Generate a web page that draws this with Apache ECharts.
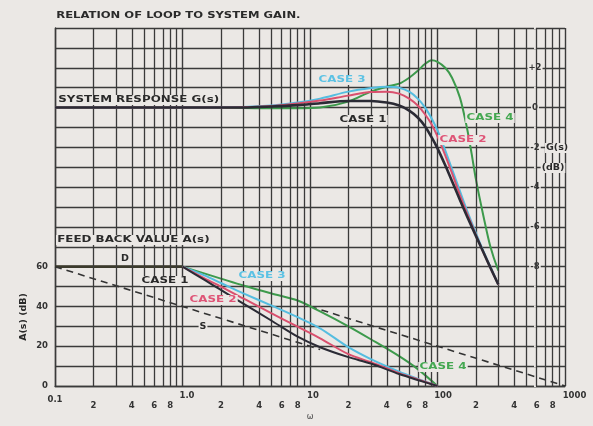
<!DOCTYPE html>
<html>
<head>
<meta charset="utf-8">
<script src="https://cdn.jsdelivr.net/npm/echarts@6/dist/echarts.min.js"></script>
<style>
html, body { margin: 0; padding: 0; background: #ebe8e5; }
#chart { width: 593px; height: 426px; }
</style>
</head>
<body>
<div id="chart"></div>
<script>
// system response G(s) in dB (right scale)
const wTop = [0.1, 1, 3, 5, 8, 12, 20, 30, 40, 50, 60, 70, 80, 90, 100, 115, 130, 150, 170, 200, 230, 260, 300];
const gCase1 = [0, 0, 0, 0.05, 0.12, 0.22, 0.33, 0.33, 0.25, 0.1, -0.15, -0.5, -0.95, -1.5, -2.05, -2.9, -3.7, -4.65, -5.45, -6.45, -7.3, -8.05, -8.9];
const gCase2 = [0, 0, 0.02, 0.08, 0.2, 0.35, 0.6, 0.78, 0.8, 0.7, 0.45, 0.1, -0.35, -0.85, -1.45, -2.4, -3.3, -4.4, -5.3, -6.4, -7.3, -8.05, -8.9];
const gCase3 = [0, 0, 0.03, 0.1, 0.25, 0.45, 0.8, 0.98, 1.05, 1.0, 0.8, 0.45, 0.0, -0.55, -1.15, -2.15, -3.1, -4.2, -5.15, -6.3, -7.25, -8.0, -8.9];
const wCase4Top = [0.1, 1, 3, 5, 8, 12, 20, 30, 40, 50, 60, 70, 80, 90, 100, 115, 130, 150, 170, 185, 200, 230, 260, 300];
const gCase4 = [0, 0, -0.02, -0.04, -0.04, 0.0, 0.3, 0.8, 1.05, 1.2, 1.5, 1.85, 2.2, 2.38, 2.3, 2.0, 1.5, 0.5, -1.0, -2.3, -3.6, -5.5, -7.0, -8.2];

// feed back value A(s) in dB (left scale)
const wBottom = [1, 1.5, 2, 3, 5, 8, 12, 20, 30, 50, 70, 100];
const aCase1 = [60, 53.2, 48.3, 41.4, 32.8, 24.8, 19.5, 14.5, 11.3, 6, 3, 0];
const aCase2 = [60, 54, 50, 44, 36.5, 29.8, 24, 16, 12, 6.5, 3.3, 0];
const aCase3 = [60, 55.5, 51.8, 46.6, 40.4, 34.6, 29, 19.5, 13.5, 7.2, 3.6, 0];
const aCase4 = [60, 56.5, 54, 50.5, 46.5, 43, 37.5, 30, 23.5, 15, 8.5, 0];
const wD = [0.1, 1];
const aD = [60, 60];
const wS1 = [0.1, 12];
const aS1 = [60, 18.4];
const wS2 = [10, 1000];
const aS2 = [40, 0];

// minor log grid lines
const minorGrid = [0.2, 0.3, 0.4, 0.5, 0.6, 0.7, 0.8, 0.9,
  2, 3, 4, 5, 6, 7, 8, 9,
  20, 30, 40, 50, 60, 70, 80, 90,
  200, 300, 400, 500, 600, 700, 800, 900];

const BG = '#ebe8e5';
const GRID = '#3a3a3a';
const FONT = 'DejaVu Sans';

function pairs(xs, ys) {
  return xs.map((x, i) => [x, ys[i]]);
}

function leading(v) {
  const p = Math.pow(10, Math.floor(Math.log10(v) + 1e-9));
  return Math.round(v / p);
}

// printed labels are a wide, bold face: stretch the text horizontally
function label(text, x, y, color, opts) {
  opts = opts || {};
  return {
    type: 'text',
    x: x,
    y: y,
    rotation: opts.rotation || 0,
    scaleX: opts.stretch || 1,
    z: 100,
    style: {
      text: text,
      fill: color,
      font: 'bold ' + (opts.size || 9.5) + 'px "' + FONT + '"',
      textAlign: opts.align || 'center',
      textVerticalAlign: 'middle',
      backgroundColor: opts.bg === false ? null : BG,
      padding: [0, 1]
    }
  };
}

const lineBase = {
  type: 'line',
  showSymbol: false,
  symbol: 'none',
  smooth: 0.3,
  animation: false,
  silent: true
};

const option = {
  backgroundColor: BG,
  animation: false,
  grid: { left: 55, right: 28, top: 28, bottom: 38 },
  xAxis: {
    type: 'log',
    logBase: 10,
    min: 0.1,
    max: 1000,
    name: 'ω',
    nameLocation: 'middle',
    nameGap: 27,
    nameTextStyle: { color: '#444', fontSize: 8, fontFamily: FONT },
    axisLine: { show: true, lineStyle: { color: GRID, width: 1.4 } },
    axisTick: { show: false },
    splitLine: { show: true, lineStyle: { color: GRID, width: 1.4 } },
    axisLabel: {
      showMinLabel: true,
      showMaxLabel: true,
      margin: 5,
      color: '#333',
      fontSize: 8.5,
      fontWeight: 'bold',
      fontFamily: FONT,
      formatter: function (v) {
        if (v < 0.5) return '{a|0.1}';
        if (v < 5) return '{b|1.0}';
        if (v < 50) return '{c|10}';
        if (v < 500) return '{d|100}';
        return '{e|1000}';
      },
      rich: {
        a: { padding: [4, 0, 0, 0] },
        b: { padding: [0, 0, 0, 9] },
        c: { padding: [0, 0, 0, 6] },
        d: { padding: [0, 0, 0, 11] },
        e: { padding: [0, 0, 0, 19] }
      }
    }
  },
  yAxis: [
    {
      type: 'value',
      min: 0,
      max: 180,
      interval: 10,
      position: 'left',
      axisLine: { show: true, lineStyle: { color: GRID, width: 1.4 } },
      axisTick: { show: false },
      splitLine: { show: true, lineStyle: { color: GRID, width: 1.4 } },
      axisLabel: {
        margin: 7,
        color: '#333',
        fontSize: 8.5,
        fontWeight: 'bold',
        fontFamily: FONT,
        formatter: function (v) {
          return (v <= 60 && v % 20 === 0) ? String(v) : '';
        }
      }
    },
    {
      type: 'value',
      min: -14,
      max: 4,
      interval: 1,
      position: 'right',
      axisLine: { show: false },
      axisTick: { show: false },
      splitLine: { show: false },
      axisLabel: {
        inside: true,
        margin: 30,
        align: 'center',
        color: '#333',
        fontSize: 8.5,
        fontWeight: 'bold',
        fontFamily: FONT,
        backgroundColor: BG,
        padding: [1, 1],
        formatter: function (v) {
          if (v < -8 || v > 2 || v % 2 !== 0) return '';
          return v > 0 ? '+' + v : String(v);
        }
      }
    }
  ],
  series: [
    Object.assign({}, lineBase, {
      name: 'D',
      data: pairs(wD, aD),
      smooth: false,
      lineStyle: { color: '#3b3a2c', width: 2.6 },
      z: 3,
      markLine: {
        silent: true,
        symbol: 'none',
        animation: false,
        lineStyle: { color: GRID, width: 1.3, type: 'solid' },
        label: {
          show: true,
          position: 'start',
          distance: 15,
          color: '#333',
          fontSize: 8.5,
          fontWeight: 'bold',
          fontFamily: FONT,
          formatter: function (p) {
            const d = leading(p.value);
            return d % 2 === 0 ? String(d) : '';
          }
        },
        data: minorGrid.map(v => ({ xAxis: v }))
      }
    }),
    Object.assign({}, lineBase, {
      name: 'S', data: pairs(wS1, aS1), smooth: false,
      lineStyle: { color: '#333', width: 1.6, type: [7, 5] }, z: 3
    }),
    Object.assign({}, lineBase, {
      name: 'S2', data: pairs(wS2, aS2), smooth: false,
      lineStyle: { color: '#333', width: 1.6, type: [7, 5] }, z: 3
    }),
    Object.assign({}, lineBase, {
      name: 'A case 4', data: pairs(wBottom, aCase4),
      lineStyle: { color: '#3d9a4c', width: 2 }, z: 4
    }),
    Object.assign({}, lineBase, {
      name: 'A case 3', data: pairs(wBottom, aCase3),
      lineStyle: { color: '#55bde0', width: 2 }, z: 5
    }),
    Object.assign({}, lineBase, {
      name: 'A case 2', data: pairs(wBottom, aCase2),
      lineStyle: { color: '#d9506e', width: 2 }, z: 6
    }),
    Object.assign({}, lineBase, {
      name: 'A case 1', data: pairs(wBottom, aCase1),
      lineStyle: { color: '#2b2b35', width: 2 }, z: 7
    }),
    Object.assign({}, lineBase, {
      name: 'G case 4', yAxisIndex: 1, data: pairs(wCase4Top, gCase4),
      lineStyle: { color: '#3d9a4c', width: 2 }, z: 4
    }),
    Object.assign({}, lineBase, {
      name: 'G case 3', yAxisIndex: 1, data: pairs(wTop, gCase3),
      lineStyle: { color: '#55bde0', width: 2 }, z: 5
    }),
    Object.assign({}, lineBase, {
      name: 'G case 2', yAxisIndex: 1, data: pairs(wTop, gCase2),
      lineStyle: { color: '#d9506e', width: 2 }, z: 6
    }),
    Object.assign({}, lineBase, {
      name: 'G case 1', yAxisIndex: 1, data: pairs(wTop, gCase1),
      lineStyle: { color: '#2b2b35', width: 2.6 }, z: 7
    })
  ],
  graphic: [
    label('RELATION OF LOOP TO SYSTEM GAIN.', 55, 16, '#2a2a2a', { size: 9.5, stretch: 1.22, align: 'left', bg: false }),
    label('SYSTEM RESPONSE G(s)', 57, 100, '#2a2a2a', { align: 'left', stretch: 1.25 }),
    label('CASE 3', 342, 80, '#5cc2e4', { stretch: 1.25 }),
    label('CASE 1', 363, 120, '#2a2a2a', { stretch: 1.25 }),
    label('CASE 4', 490, 118, '#45a852', { stretch: 1.25 }),
    label('CASE 2', 463, 140, '#df5577', { stretch: 1.25 }),
    label('G(s)', 545, 148, '#2a2a2a', { align: 'left' }),
    label('(dB)', 553, 168, '#2a2a2a'),
    label('FEED BACK VALUE A(s)', 56, 240, '#2a2a2a', { align: 'left', stretch: 1.25 }),
    label('D', 125, 259, '#2a2a2a'),
    label('CASE 1', 165, 281, '#2a2a2a', { stretch: 1.25 }),
    label('CASE 3', 262, 276, '#5cc2e4', { stretch: 1.25 }),
    label('CASE 2', 213, 300, '#df5577', { stretch: 1.25 }),
    label('S', 203, 327, '#2a2a2a'),
    label('CASE 4', 443, 367, '#45a852', { stretch: 1.25 }),
    label('A(s) (dB)', 24, 317, '#2a2a2a', { rotation: Math.PI / 2, bg: false })
  ]
};

const chart = echarts.init(document.getElementById('chart'), null, { renderer: 'canvas' });
chart.setOption(option);
</script>
</body>
</html>
